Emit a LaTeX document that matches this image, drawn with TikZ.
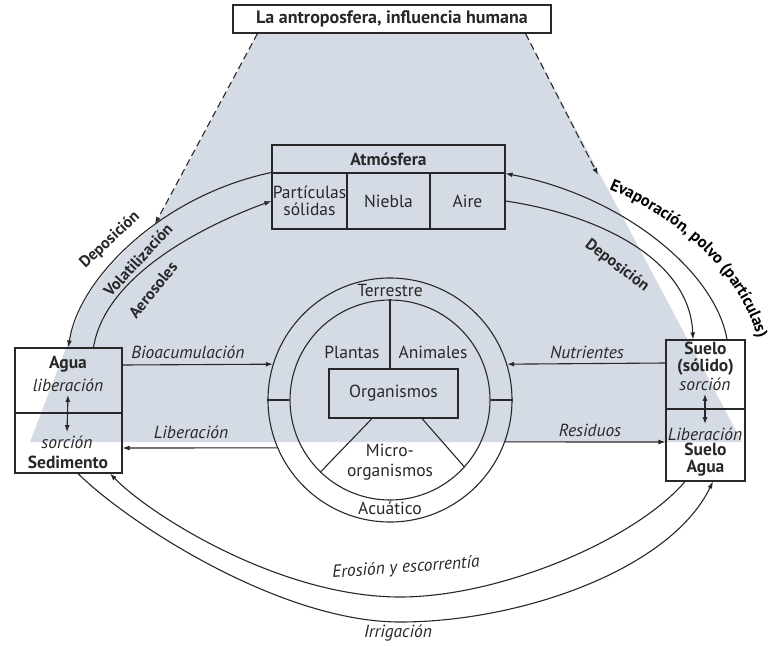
\documentclass[tikz,border=0pt]{standalone}
\usepackage{fontspec}
\setmainfont{PT Sans}
\usetikzlibrary{arrows.meta,decorations.text,calc}
\definecolor{anthro}{RGB}{213,219,228}
\definecolor{ink}{RGB}{40,40,40}
\begin{document}
\begin{tikzpicture}[x=1pt,y=-1pt,
  every node/.style={text=ink},
  rmfnt/.style={font=\fontsize{17.5}{17}\selectfont},
  bfnt/.style={font=\fontsize{17.5}{17}\selectfont\bfseries},
  arcfnt/.style={font=\fontsize{16}{16}\selectfont\bfseries,inner sep=1pt},
  itnt/.style={font=\fontsize{17.5}{17}\selectfont\itshape},
  cellbox/.style={draw=ink,line width=1.1pt,inner sep=0pt,align=center,font=\fontsize{17.5}{17}\selectfont},
  ring/.style={draw=ink,line width=1.1pt,circle,inner sep=0pt},
  thin/.style={draw=ink,line width=1.1pt},
  arr/.style={draw=ink,line width=1.1pt,-{Latex[length=7pt,width=5pt]}},
  darr/.style={draw=ink,line width=1.1pt,{Latex[length=7pt,width=5pt]}-{Latex[length=7pt,width=5pt]}},
  dasharr/.style={arr,dash pattern=on 7pt off 4pt}
]
\useasboundingbox (0,0) rectangle (772,646);
\fill[white] (0,0) rectangle (772,646);
% shaded anthroposphere
\fill[anthro] (258,33) -- (525,33) -- (742,442) -- (30,442) -- (82,306) -- (95,285)
  -- (112,264) -- (132,244) -- (155,225) -- cycle;

% title
\node[cellbox,fill=white,minimum width=318pt,minimum height=28pt,
  font=\fontsize{18}{18}\selectfont\bfseries] (title) at (392,19) {La antroposfera, influencia humana};

% atmosphere
\node[cellbox,minimum width=233pt,minimum height=28pt,font=\fontsize{17.5}{17}\selectfont\bfseries] (atm) at (388.5,159) {Atmósfera};
\node[cellbox,minimum width=75pt,minimum height=56pt] (part) at (309.5,201) {Partículas\\sólidas};
\node[cellbox,minimum width=83pt,minimum height=56pt] (nieb) at (388.5,201) {Niebla};
\node[cellbox,minimum width=75pt,minimum height=56pt] (aire) at (467.5,201) {Aire};

% water / sediment box
\node[cellbox,minimum width=107pt,minimum height=65pt] (aguaU) at (68.5,380.5) {};
\node[cellbox,minimum width=107pt,minimum height=60pt] (sedL) at (68.5,443) {};
\node[bfnt] (aguaT) at (68,364) {Agua};
\node[itnt] (libA) at (68,385) {liberación};
\node[itnt] (sorA) at (67,442) {sorción};
\node[bfnt] (sedT) at (68,462) {Sedimento};
\draw[darr] (libA.south) -- (sorA.north);

% soil box
\node[cellbox,minimum width=79pt,minimum height=69pt] (sueloU) at (705.5,374.5) {};
\node[cellbox,minimum width=79pt,minimum height=72pt] (sueloL) at (705.5,445) {};
\node[bfnt,align=center] (suelo1) at (705.5,358.5) {Suelo\\(sólido)};
\node[itnt] (sorS) at (705,384) {sorción};
\node[itnt] (libS) at (705,434) {Liberación};
\node[bfnt,align=center] (suelo2) at (705.5,460) {Suelo\\Agua};
\draw[darr] (sorS.south) -- (libS.north);

% organisms
\node[ring,minimum size=244pt] (outer) at (390,400) {};
\node[ring,minimum size=200pt] (inner) at (390,400) {};
\node[cellbox,minimum width=129pt,minimum height=49pt] (org) at (393.5,393.5) {Organismos};
\draw[thin] (outer.180) -- (inner.180);
\draw[thin] (outer.0) -- (inner.0);
\draw[thin] (inner.90) -- (inner.90 |- org.north);
\draw[thin] ([xshift=-21.5pt]org.south) -- (inner.226);
\draw[thin] ([xshift=28.5pt]org.south) -- (inner.-42);
\node[rmfnt] (terr) at (390,290) {Terrestre};
\node[rmfnt] (acua) at (390,508) {Acuático};
\node[rmfnt] (plan) at (352,352) {Plantas};
\node[rmfnt] (anim) at (433,352) {Animales};
\node[rmfnt,align=center,font=\fontsize{17.5}{19.5}\selectfont] (micro) at (390,462) {Micro-\\organismos};

% horizontal exchanges
\draw[arr] ([yshift=15.5pt]aguaU.east) -- (outer.163.3);
\draw[arr] (outer.203.2) -- ([yshift=-5pt]sedL.east);
\draw[arr] ([yshift=11.5pt]sueloU.west) -- (outer.17.6);
\draw[arr] (outer.-20.1) -- ([yshift=3pt]sueloL.west);
\node[itnt] (bioL) at (188,352) {Bioacumulación};
\node[itnt] (libL) at (191,432) {Liberación};
\node[itnt] (nutL) at (587,352) {Nutrientes};
\node[itnt] (resL) at (590,430) {Residuos};

% atmosphere arcs
\draw[arr] (part.north west) .. controls (160,196) and (78,280) .. (aguaU.north);
\draw[arr] ([xshift=25pt]aguaU.north) .. controls (105,275) and (205,225) .. (part.west);
\draw[arr] ([xshift=21.5pt]sueloU.north) .. controls (715,270) and (620,195) .. (atm.south east);
\draw[arr] (aire.east) .. controls (600,215) and (690,260) .. ([xshift=-12.5pt]sueloU.north);
\node[arcfnt,rotate=43] (depL) at (110,240) {Deposición};
\node[arcfnt,rotate=47] (volL) at (138,260) {Volatilización};
\node[arcfnt,rotate=51] (aerL) at (153,290) {Aerosoles};
\node[arcfnt,rotate=-37] (depR) at (617,266) {Deposición};
\path[decorate,decoration={text along path,text align=center,
  text={|\fontsize{16.5}{16.5}\selectfont\bfseries|Evaporación, polvo (partículas)}}]
  (560,172) -- (596,184) .. controls (680,215) and (750,280) .. (762,358) -- (764,390);

% dashed anthroposphere edges
\coordinate (dL) at (155,224);
\coordinate (dR) at (598,175);
\draw[dasharr] ([xshift=25pt]title.south west) -- (dL);
\draw[dasharr] ([xshift=-26pt]title.south east) -- (dR);

% bottom arcs
\draw[arr] ([xshift=9.5pt]sedL.south) .. controls (128,523) and (280,622) .. (400,622)
  .. controls (520,622) and (670,570) .. ([xshift=7.5pt]sueloL.south);
\draw[arr] ([xshift=-20.5pt]sueloL.south) .. controls (635,540) and (500,597) .. (400,597)
  .. controls (280,597) and (150,515) .. ([xshift=41.5pt]sedL.south);
\node[itnt,rotate=4] (eros) at (406,568) {Erosión y escorrentía};
\node[itnt] (irri) at (398,633) {Irrigación};
\end{tikzpicture}
\end{document}
